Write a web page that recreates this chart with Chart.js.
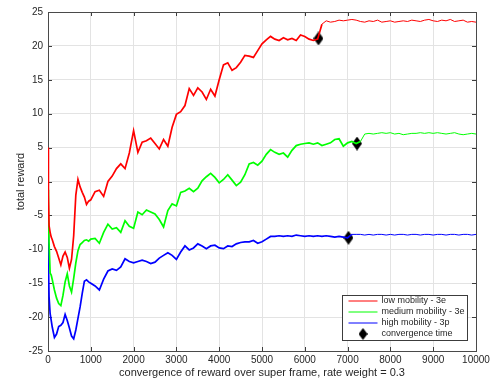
<!DOCTYPE html>
<html>
<head>
<meta charset="utf-8">
<script src="https://cdn.jsdelivr.net/npm/chart.js@4/dist/chart.umd.min.js"></script>
<style>
    html, body { margin: 0; padding: 0; background: #fff; }
    #wrap { width: 496px; height: 386px; }
</style>
</head>
<body>
<div id="wrap"><canvas id="rewardChart" width="496" height="386"></canvas></div>
<script>
// sample positions (super frames)
const steps = [0, 10, 25, 50, 75, 100, 150, 200, 250, 300, 350, 400, 450, 500, 550, 600, 650, 700, 750, 800, 850, 900, 950, 1000,
    1100, 1200, 1300, 1400, 1500, 1600, 1700, 1800, 1900, 2000, 2100, 2200, 2300, 2400, 2500, 2600, 2700, 2800, 2900, 3000,
    3100, 3200, 3300, 3400, 3500, 3600, 3700, 3800, 3900, 4000, 4100, 4200, 4300, 4400, 4500, 4600, 4700, 4800, 4900, 5000,
    5100, 5200, 5300, 5400, 5500, 5600, 5700, 5800, 5900, 6000, 6100, 6200, 6300, 6400, 6500, 6600, 6700, 6800, 6900, 7000,
    7100, 7200, 7300, 7400, 7500, 7600, 7700, 7800, 7900, 8000, 8100, 8200, 8300, 8400, 8500, 8600, 8700, 8800, 8900, 9000,
    9100, 9200, 9300, 9400, 9500, 9600, 9700, 9800, 9900, 10000];

// low mobility - 3e
const lowReward = [5.0, -2.0, -6.5, -7.5, -8.2, -8.6, -9.6, -10.3, -11.3, -12.3, -11.0, -10.4, -11.2, -12.8, -11.5, -8.0, -2.0, 0.3, -0.8, -1.6, -2.3, -3.4, -2.9, -2.7,
    -1.5, -1.3, -2.2, 0.0, 0.8, 1.9, 2.6, 1.9, 4.2, 7.5, 4.3, 5.8, 6.0, 6.4, 5.6, 4.8, 6.2, 5.2, 8.0, 9.9,
    10.3, 11.2, 13.7, 12.7, 13.8, 13.2, 12.1, 13.6, 12.6, 15.0, 17.2, 17.5, 16.4, 16.8, 17.6, 18.6, 18.5, 18.3, 19.3, 20.3,
    20.9, 21.4, 21.0, 20.8, 21.2, 20.9, 21.1, 20.8, 21.6, 21.4, 21.0, 20.8, 21.0, 23.2, 23.7, 23.5, 23.6, 23.8, 23.7, 23.8,
    23.9, 23.8, 23.6, 23.5, 23.7, 23.6, 23.8, 23.5, 23.6, 23.7, 23.5, 23.6, 23.7, 23.6, 23.8, 23.7, 23.6, 23.8, 23.9, 23.7,
    23.6, 23.8, 23.7, 23.9, 23.6, 23.7, 23.8, 23.5, 23.6, 23.5];

// medium mobility - 3e
const mediumReward = [-1.2, -5.0, -9.0, -13.5, -13.8, -14.5, -16.0, -17.2, -18.0, -18.3, -16.8, -14.8, -13.6, -15.4, -16.3, -14.3, -12.0, -10.2, -9.3, -9.0, -8.7, -8.6, -8.8, -8.5,
    -8.4, -9.1, -7.5, -6.3, -7.0, -6.8, -7.5, -5.8, -6.6, -6.9, -4.5, -4.9, -4.2, -4.5, -4.8, -5.6, -6.7, -4.3, -3.3, -3.6,
    -1.6, -1.4, -1.0, -1.5, -1.0, 0.1, 0.7, 1.2, 0.6, -0.2, 0.3, 1.0, 0.2, -0.6, -0.1, 1.0, 2.6, 2.8, 2.4, 3.0,
    4.0, 4.7, 4.3, 4.0, 4.2, 3.6, 4.6, 5.3, 5.5, 5.6, 5.7, 5.5, 5.7, 5.3, 5.5, 5.7, 6.2, 6.3, 5.2, 5.7,
    5.9, 5.6, 5.9, 7.0, 7.1, 7.0, 7.1, 7.2, 7.1, 7.2, 7.0, 7.1, 6.9, 7.0, 7.1, 7.1, 7.2, 7.1, 7.2, 7.1,
    7.2, 7.1, 7.0, 7.1, 7.2, 7.0, 6.9, 7.0, 7.1, 7.0];

// high mobility - 3p
const highReward = [-7.8, -12.0, -17.0, -19.5, -20.5, -21.5, -23.0, -22.5, -21.4, -21.2, -20.8, -19.6, -20.5, -21.6, -22.8, -23.2, -21.9, -20.2, -18.5, -16.5, -14.7, -14.5, -14.8, -15.0,
    -15.4, -16.0, -14.4, -13.2, -12.9, -13.1, -12.6, -11.4, -11.8, -12.0, -11.8, -11.6, -11.8, -12.1, -11.9, -11.3, -10.9, -10.5, -10.9, -11.5,
    -10.4, -9.5, -10.1, -9.8, -9.2, -9.5, -9.9, -9.5, -9.4, -9.8, -9.9, -9.5, -9.6, -9.2, -9.0, -8.9, -8.9, -8.7, -9.1, -8.9,
    -8.5, -8.1, -8.1, -8.0, -8.1, -8.0, -8.1, -7.9, -8.0, -8.1, -8.0, -8.1, -8.0, -8.1, -8.0, -8.1, -8.2, -8.1, -8.2, -8.3,
    -7.8, -7.8, -7.8, -7.9, -7.8, -7.9, -7.8, -7.8, -7.9, -7.8, -7.9, -7.8, -7.8, -7.9, -7.8, -7.8, -7.9, -7.8, -7.8, -7.9,
    -7.8, -7.8, -7.9, -7.8, -7.8, -7.9, -7.8, -7.8, -7.9, -7.8];

// convergence time markers (low, medium, high)
const convFrame = [6320, 7220, 7020];
const convReward = [21.1, 5.6, -8.3];

const seriesLabels = ['low mobility - 3e', 'medium mobility - 3e', 'high mobility - 3p', 'convergence time'];
const seriesColors = ['#ff0000', '#00ff00', '#0000ff', '#000000'];

const FONT = 'Helvetica, Arial, "Liberation Sans", sans-serif';

// diamond marker, a little taller than wide like the matlab one
function makeDiamond(w, h) {
    const c = document.createElement('canvas');
    c.width = w;
    c.height = h;
    const g = c.getContext('2d');
    g.fillStyle = '#000';
    g.beginPath();
    g.moveTo(w / 2, 0);
    g.lineTo(w, h / 2);
    g.lineTo(w / 2, h);
    g.lineTo(0, h / 2);
    g.closePath();
    g.fill();
    return c;
}
const diamond = makeDiamond(10, 14);
const legendDiamond = makeDiamond(9, 12);

function toPoints(xs, ys) {
    return xs.map((x, i) => ({ x: x, y: ys[i] }));
}

// box around the axes with inward ticks on all four sides
const boxPlugin = {
    id: 'matlabBox',
    beforeDatasetsDraw(chart) {
        const { ctx, chartArea: a, scales } = chart;
        const len = 4;
        ctx.save();
        ctx.strokeStyle = '#3c3c3c';
        ctx.lineWidth = 1;
        ctx.beginPath();
        scales.x.ticks.forEach(t => {
            const px = Math.round(scales.x.getPixelForValue(t.value)) + 0.5;
            ctx.moveTo(px, a.bottom); ctx.lineTo(px, a.bottom - len);
            ctx.moveTo(px, a.top); ctx.lineTo(px, a.top + len);
        });
        scales.y.ticks.forEach(t => {
            const py = Math.round(scales.y.getPixelForValue(t.value)) + 0.5;
            ctx.moveTo(a.left, py); ctx.lineTo(a.left + len, py);
            ctx.moveTo(a.right, py); ctx.lineTo(a.right - len, py);
        });
        ctx.stroke();
        ctx.strokeStyle = '#4a4a4a';
        ctx.strokeRect(Math.round(a.left) + 0.5, Math.round(a.top) + 0.5,
            Math.round(a.right - a.left), Math.round(a.bottom - a.top));
        ctx.restore();
    }
};

// legend box in the lower right corner
const legendPlugin = {
    id: 'insideLegend',
    afterDraw(chart) {
        const { ctx } = chart;
        const x0 = 342.5, y0 = 295.5, w = 125, h = 45;
        ctx.save();
        ctx.fillStyle = '#fff';
        ctx.fillRect(x0, y0, w, h);
        ctx.strokeStyle = '#3c3c3c';
        ctx.lineWidth = 1;
        ctx.strokeRect(x0, y0, w, h);
        ctx.font = '9px ' + FONT;
        ctx.textBaseline = 'middle';
        chart.data.datasets.forEach((ds, i) => {
            const cy = y0 + 5.5 + i * 11;
            if (i < 3) {
                ctx.strokeStyle = ds.borderColor;
                ctx.beginPath();
                ctx.moveTo(x0 + 6, cy);
                ctx.lineTo(x0 + 35, cy);
                ctx.stroke();
            } else {
                ctx.drawImage(legendDiamond, x0 + 16, cy - 6);
            }
            ctx.fillStyle = '#262626';
            ctx.fillText(ds.label, x0 + 39, cy);
        });
        ctx.restore();
    }
};

// noisy part before convergence looks heavier than the settled tail
const lineSet = (i, ys) => ({
    label: seriesLabels[i],
    data: toPoints(steps, ys),
    borderColor: seriesColors[i],
    borderWidth: 1.7,
    segment: {
        borderWidth: c => (c.p1.parsed.x > convFrame[i] + 150 ? 1 : 1.7)
    },
    pointRadius: 0,
    tension: 0,
    fill: false
});

new Chart(document.getElementById('rewardChart'), {
    type: 'line',
    data: {
        datasets: [
            lineSet(0, lowReward),
            lineSet(1, mediumReward),
            lineSet(2, highReward),
            {
                label: seriesLabels[3],
                data: toPoints(convFrame, convReward),
                showLine: false,
                pointStyle: diamond,
                pointRadius: 6,
                backgroundColor: '#000',
                borderColor: '#000'
            }
        ]
    },
    options: {
        responsive: false,
        animation: false,
        layout: { padding: { top: 12, right: 20, left: 0, bottom: 0 } },
        plugins: {
            legend: { display: false },
            tooltip: { enabled: false }
        },
        scales: {
            x: {
                type: 'linear',
                min: 0,
                max: 10000,
                afterFit: s => { s.height = 35; },
                ticks: {
                    stepSize: 1000,
                    padding: 3,
                    color: '#262626',
                    font: { family: FONT, size: 10 },
                    maxRotation: 0,
                    callback: v => String(v)
                },
                grid: { color: '#e3e3e3', drawTicks: false },
                border: { display: false },
                title: {
                    display: true,
                    text: 'convergence of reward over super frame, rate weight = 0.3',
                    color: '#262626',
                    font: { family: FONT, size: 11 },
                    padding: { top: 0, bottom: 6 }
                }
            },
            y: {
                min: -25,
                max: 25,
                afterFit: s => { s.width = 48; },
                ticks: { stepSize: 5, padding: 5, color: '#262626', font: { family: FONT, size: 10 } },
                grid: { color: '#e3e3e3', drawTicks: false },
                border: { display: false },
                title: {
                    display: true,
                    text: 'total reward',
                    color: '#262626',
                    font: { family: FONT, size: 11 },
                    padding: { top: 14, bottom: 0 }
                }
            }
        }
    },
    plugins: [boxPlugin, legendPlugin]
});
</script>
</body>
</html>
